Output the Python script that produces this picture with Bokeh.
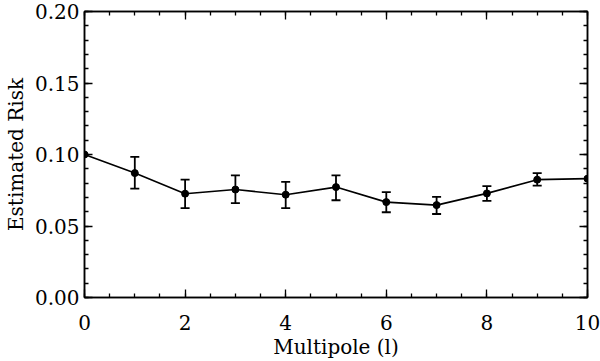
from bokeh.plotting import figure
from bokeh.models import (ColumnDataSource, Whisker, TeeHead, LinearAxis, Range1d,
                          FixedTicker, CustomJSTickFormatter)
from bokeh.embed import file_html
from bokeh.resources import INLINE

# Data
multipole = [0, 1, 2, 3, 4, 5, 6, 7, 8, 9, 10]
risk = [0.100, 0.087, 0.0726, 0.0755, 0.0719, 0.0772, 0.0667, 0.0646, 0.0728, 0.0824, 0.0831]
risk_lower = [0.100, 0.0762, 0.0625, 0.0660, 0.0625, 0.0680, 0.0596, 0.0584, 0.0676, 0.0783, 0.0831]
risk_upper = [0.100, 0.0984, 0.0824, 0.0854, 0.0808, 0.0854, 0.0737, 0.0703, 0.0779, 0.0870, 0.0831]

x_ticks = [0, 2, 4, 6, 8, 10]
x_minor = [v / 2 for v in range(0, 21)]
y_ticks = [0.00, 0.05, 0.10, 0.15, 0.20]
y_minor = [v / 100 for v in range(0, 21)]

FONT = "DejaVu Serif"

p = figure(width=600, height=361, output_backend="svg", toolbar_location=None,
           x_range=Range1d(0, 10), y_range=Range1d(0, 0.20))
p.min_border_left = 0
p.min_border_bottom = 0
p.min_border_top = 11
p.min_border_right = 13
p.background_fill_color = "white"
p.border_fill_color = "white"
p.outline_line_color = "black"
p.outline_line_width = 1.5
p.xgrid.visible = False
p.ygrid.visible = False

src = ColumnDataSource(dict(x=multipole, y=risk))
p.line("x", "y", source=src, line_color="black", line_width=1.6)
p.scatter("x", "y", source=src, size=7, color="black")

# error bars only where an error is present
keep = [i for i in range(len(multipole)) if risk_upper[i] > risk_lower[i]]
esrc = ColumnDataSource(dict(x=[multipole[i] for i in keep],
                             lower=[risk_lower[i] for i in keep],
                             upper=[risk_upper[i] for i in keep]))
w = Whisker(base="x", lower="lower", upper="upper", source=esrc,
            line_color="black", line_width=1.8,
            upper_head=TeeHead(size=9, line_color="black", line_width=1.8),
            lower_head=TeeHead(size=9, line_color="black", line_width=1.8))
p.add_layout(w)

def style(ax):
    ax.axis_line_color = "black"
    ax.axis_line_width = 1.5
    ax.major_tick_in = 8
    ax.major_tick_out = 0
    ax.minor_tick_in = 4
    ax.minor_tick_out = 0
    ax.major_tick_line_color = "black"
    ax.minor_tick_line_color = "black"
    ax.major_tick_line_width = 1.3
    ax.minor_tick_line_width = 1.3
    ax.major_label_text_font = FONT
    ax.axis_label_text_font = FONT
    ax.axis_label_text_font_style = "normal"
    ax.major_label_text_color = "black"
    ax.axis_label_text_color = "black"
    ax.major_label_text_font_size = "20px"
    ax.axis_label_text_font_size = "20px"

p.xaxis.ticker = FixedTicker(ticks=x_ticks, minor_ticks=x_minor)
p.yaxis.ticker = FixedTicker(ticks=y_ticks, minor_ticks=y_minor)
style(p.xaxis[0])
style(p.yaxis[0])
p.xaxis.axis_label = "Multipole (l)"
p.yaxis.axis_label = "Estimated Risk"
p.xaxis.major_label_standoff = 17
p.xaxis.axis_label_standoff = 2
p.yaxis.major_label_standoff = 5
p.yaxis.axis_label_standoff = 4
p.yaxis.formatter = CustomJSTickFormatter(code="return tick.toFixed(2);")

blank = CustomJSTickFormatter(code="return '';")
top = LinearAxis(ticker=FixedTicker(ticks=x_ticks, minor_ticks=x_minor), formatter=blank)
style(top)
top.major_label_standoff = 0
p.add_layout(top, "above")
right = LinearAxis(ticker=FixedTicker(ticks=y_ticks, minor_ticks=y_minor), formatter=blank)
style(right)
right.major_label_standoff = 0
p.add_layout(right, "right")

open("out.html", "w").write(file_html(p, INLINE))
